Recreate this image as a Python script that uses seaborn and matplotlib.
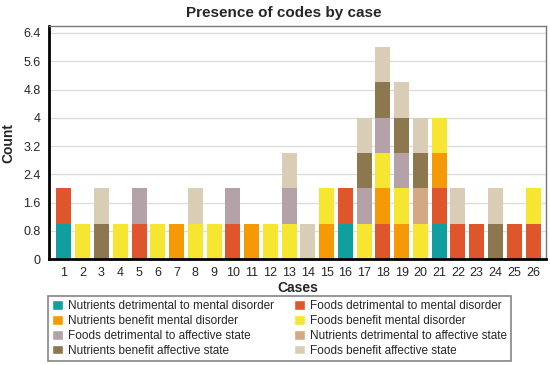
import numpy as np
import pandas as pd
import seaborn as sns
import matplotlib.pyplot as plt
from matplotlib.patches import Patch
from matplotlib.ticker import AutoMinorLocator

cases = list(range(1, 27))

# presence (0/1) of each code per case, stacked bottom -> top
nutr_detr_mental = [1, 0, 0, 0, 0, 0, 0, 0, 0, 0, 0, 0, 0, 0, 0, 1, 0, 0, 0, 0, 1, 0, 0, 0, 0, 0]
food_detr_mental = [1, 0, 0, 0, 1, 0, 0, 0, 0, 1, 0, 0, 0, 0, 0, 1, 0, 1, 0, 0, 1, 1, 1, 0, 1, 1]
nutr_ben_mental = [0, 0, 0, 0, 0, 0, 1, 0, 0, 0, 1, 0, 0, 0, 1, 0, 0, 1, 1, 0, 1, 0, 0, 0, 0, 0]
food_ben_mental = [0, 1, 0, 1, 0, 1, 0, 1, 1, 0, 0, 1, 1, 0, 1, 0, 1, 1, 1, 1, 1, 0, 0, 0, 0, 1]
food_detr_affect = [0, 0, 0, 0, 1, 0, 0, 0, 0, 1, 0, 0, 1, 0, 0, 0, 1, 1, 1, 0, 0, 0, 0, 0, 0, 0]
nutr_detr_affect = [0, 0, 0, 0, 0, 0, 0, 0, 0, 0, 0, 0, 0, 0, 0, 0, 0, 0, 0, 1, 0, 0, 0, 0, 0, 0]
nutr_ben_affect = [0, 0, 1, 0, 0, 0, 0, 0, 0, 0, 0, 0, 0, 0, 0, 0, 1, 1, 1, 1, 0, 0, 0, 1, 0, 0]
food_ben_affect = [0, 0, 1, 0, 0, 0, 0, 1, 0, 0, 0, 0, 1, 1, 0, 0, 1, 1, 1, 1, 0, 1, 0, 1, 0, 0]

codes = [
    ("Nutrients detrimental to mental disorder", nutr_detr_mental, "#109e9e"),
    ("Foods detrimental to mental disorder", food_detr_mental, "#e0562c"),
    ("Nutrients benefit mental disorder", nutr_ben_mental, "#f59a06"),
    ("Foods benefit mental disorder", food_ben_mental, "#f6e631"),
    ("Foods detrimental to affective state", food_detr_affect, "#b5a1a8"),
    ("Nutrients detrimental to affective state", nutr_detr_affect, "#d4a882"),
    ("Nutrients benefit affective state", nutr_ben_affect, "#8c774f"),
    ("Foods benefit affective state", food_ben_affect, "#d9cdb5"),
]
# legend fills column-wise, reference reads row-wise
legend_order = [0, 2, 4, 6, 1, 3, 5, 7]

rows = []
for name, vals, _ in codes:
    for c, v in zip(cases, vals):
        rows.append({"case": c, "code": name, "n": v})
df = pd.DataFrame(rows)
palette = {name: col for name, _, col in codes}

sns.set_style("white")
plt.rcParams["font.family"] = ["Liberation Sans", "DejaVu Sans"]

fig = plt.figure(figsize=(5.5, 3.65), dpi=100)
ax = fig.add_axes([0.089, 0.29, 0.904, 0.639])

sns.histplot(data=df, x="case", weights="n", hue="code",
             hue_order=[n for n, _, _ in codes][::-1], palette=palette,
             multiple="stack", discrete=True, shrink=0.8, alpha=1,
             linewidth=0, legend=False, ax=ax)

ax.set_xlim(0.2, 26.7)
ax.set_ylim(0, 6.6)
ax.set_xticks(cases)
ax.set_yticks(np.arange(0, 6.5, 0.8))
ax.set_yticklabels(["0", "0.8", "1.6", "2.4", "3.2", "4", "4.8", "5.6", "6.4"])
ax.yaxis.set_minor_locator(AutoMinorLocator(5))
ax.tick_params(axis="y", which="major", length=4, width=1, labelsize=9, color="#555555", pad=2)
ax.tick_params(axis="y", which="minor", length=2, width=0.8, color="#888888")
ax.tick_params(axis="x", length=3, width=0.8, labelsize=9, color="#e0a0b0", pad=3)
ax.grid(axis="y", color="#dddddd", linewidth=1)
ax.set_axisbelow(True)

for s in ["left", "bottom"]:
    ax.spines[s].set_color("black")
    ax.spines[s].set_linewidth(2)
for s in ["top", "right"]:
    ax.spines[s].set_color("#777777")
    ax.spines[s].set_linewidth(1)

ax.set_xlabel("Cases", fontsize=10, fontweight="bold", labelpad=1)
ax.set_ylabel("Count", fontsize=10, fontweight="bold", labelpad=6)
fig.text(0.515, 0.965, "Presence of codes by case", ha="center", va="center",
         fontsize=11, fontweight="bold")

handles = [Patch(facecolor=codes[i][2], label=codes[i][0]) for i in legend_order]
leg = fig.legend(handles=handles, ncol=2, loc="upper left",
                 bbox_to_anchor=(0.087, 0.19), bbox_transform=fig.transFigure,
                 borderaxespad=0, fontsize=8.5, frameon=True, fancybox=False,
                 edgecolor="#666666", handlelength=0.95, handleheight=0.9,
                 handletextpad=0.4, columnspacing=1.7, labelspacing=0.25,
                 borderpad=0.35)
leg.get_frame().set_linewidth(1.2)

fig.savefig("out.png", dpi=100)
